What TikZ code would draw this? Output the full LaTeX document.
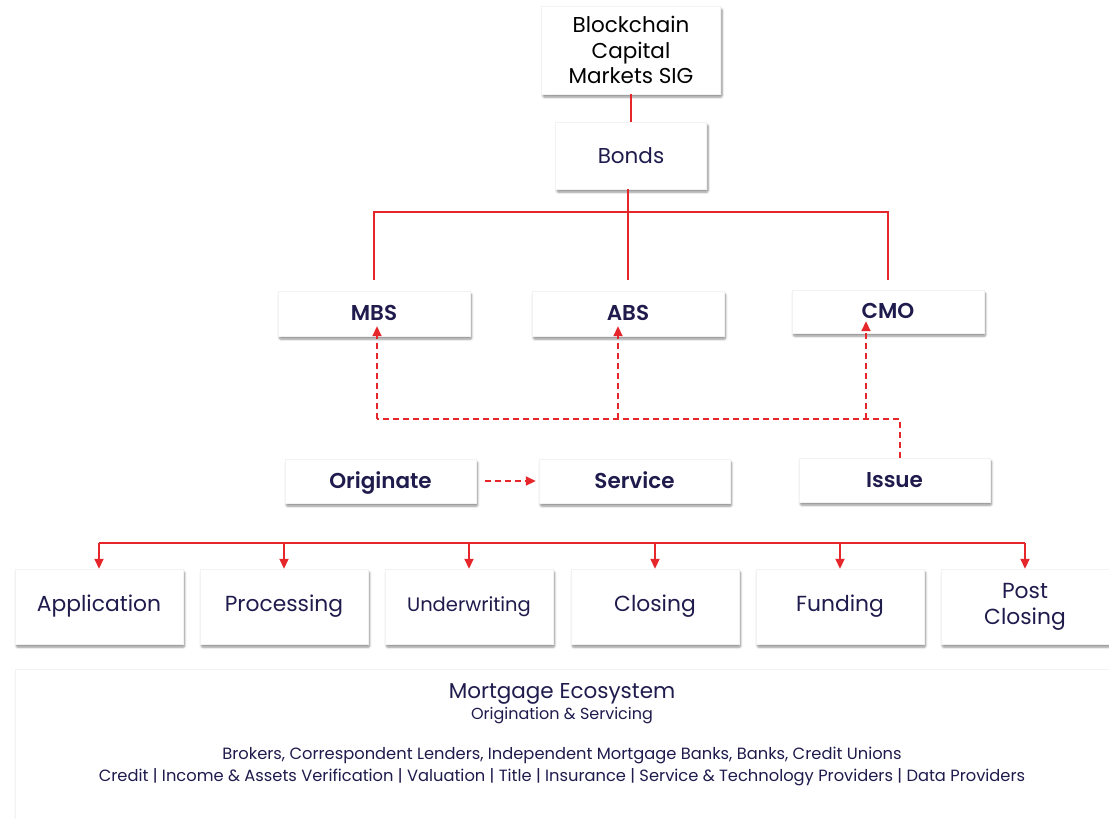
\documentclass[tikz,border=0pt]{standalone}
\usepackage{fontspec}
\setmainfont{Poppins}[BoldFont={Poppins SemiBold}]
\usetikzlibrary{arrows.meta,shadows.blur}
\definecolor{navy}{HTML}{1F1B4D}
\definecolor{lred}{HTML}{E5262B}
\tikzset{
  box/.style={fill=white, draw=black!5, line width=0.4pt, text=navy, align=center,
    inner sep=0pt, blur shadow={shadow blur steps=6, shadow blur extra rounding=1pt, shadow xshift=1.5pt, shadow yshift=-3pt, shadow opacity=45}},
  redline/.style={draw=lred, line width=1.8pt},
  dashline/.style={draw=lred, line width=1.8pt, dash pattern=on 6pt off 4pt},
  tip/.style={-{Triangle[length=10pt,width=9pt]}},
  bfont/.style={font=\fontsize{21.5}{25}\selectfont\bfseries, text height=15pt, text depth=1pt},
}
\begin{document}
\begin{tikzpicture}[x=1pt,y=-1pt]
\useasboundingbox (0,0) rectangle (1109,819);
% top
\node[box, text=black, minimum width=179pt, minimum height=88pt, font=\fontsize{21.5}{25.5}\selectfont] (bc) at (631,50) {Blockchain\\Capital\\Markets SIG};
\node[box, minimum width=151pt, minimum height=67pt, font=\fontsize{21.5}{25}\selectfont] (bonds) at (631,155.5) {Bonds};
\draw[redline] (bc.south) -- (bonds.north);
% second row
\node[box, minimum width=192pt, minimum height=45pt, bfont] (mbs) at (374,313.5) {MBS};
\node[box, minimum width=192pt, minimum height=45pt, bfont] (abs) at (628,313.5) {ABS};
\node[box, minimum width=192pt, minimum height=43pt, bfont] (cmo) at (888,311.5) {CMO};
\coordinate (bj) at (628,212);
\coordinate (mt) at (374,280);
\coordinate (ct) at (888,280);
\draw[redline] (bonds.south -| bj) -- (bj);
\draw[redline] (mt) |- (bj) -| (ct);
\draw[redline] (bj) -- (bj |- mt);
% third row
\node[box, minimum width=191pt, minimum height=44pt, bfont] (orig) at (380.5,481) {Originate};
\node[box, minimum width=191pt, minimum height=44pt, bfont] (serv) at (634.5,481) {Service};
\node[box, minimum width=191pt, minimum height=44pt, bfont] (issue) at (894.5,480) {Issue};
\draw[dashline, tip] ([xshift=9pt]orig.east) -- ([xshift=-3pt]serv.west);
\coordinate (ic) at (900,419);
\coordinate (mc) at (377,419);
\draw[dashline] ([xshift=5.5pt]issue.north) -- (ic) -- (mc);
\draw[dashline, tip] (mc) -- ([xshift=3pt, yshift=10pt]mbs.south);
\draw[dashline, tip] (618,419) -- ([xshift=-10pt, yshift=10pt]abs.south);
\draw[dashline, tip] (866,419) -- ([xshift=-22pt, yshift=12pt]cmo.south);
% fourth row
\foreach \n/\x/\t/\f in {app/99/Application/21.8, proc/284/Processing/21.8, und/469/Underwriting/19.5, clos/655/Closing/21.8, fund/840/Funding/21.8, post/1025/{Post\\Closing}/21.8}{
  \node[box, minimum width=168pt, minimum height=75pt, font=\fontsize{\f}{26}\selectfont] (\n) at (\x,606.5) {\t};
}
\coordinate (hl) at (99,543);
\coordinate (hr) at (1025,543);
\draw[redline] (hl) -- (hr);
\foreach \n in {app,proc,und,clos,fund,post}{
  \draw[redline, tip] (\n.north |- hl) -- (\n.north);
}
% bottom box
\node[box, minimum width=1110pt, minimum height=160pt, anchor=north west] (eco) at (15,669) {};
\node[text=navy, font=\fontsize{21.5}{25}\selectfont, anchor=base] (t1) at (562,698) {Mortgage Ecosystem};
\node[text=navy, font=\fontsize{16}{18}\selectfont, anchor=base] (t2) at (562,719) {Origination \& Servicing};
\node[text=navy, font=\fontsize{16.3}{18}\selectfont, anchor=base] (t3) at (562,759) {Brokers, Correspondent Lenders, Independent Mortgage Banks, Banks, Credit Unions};
\node[text=navy, font=\fontsize{16.3}{18}\selectfont, anchor=base] (t4) at (562,781) {Credit | Income \& Assets Verification | Valuation | Title | Insurance | Service \& Technology Providers | Data Providers};
\end{tikzpicture}
\end{document}
